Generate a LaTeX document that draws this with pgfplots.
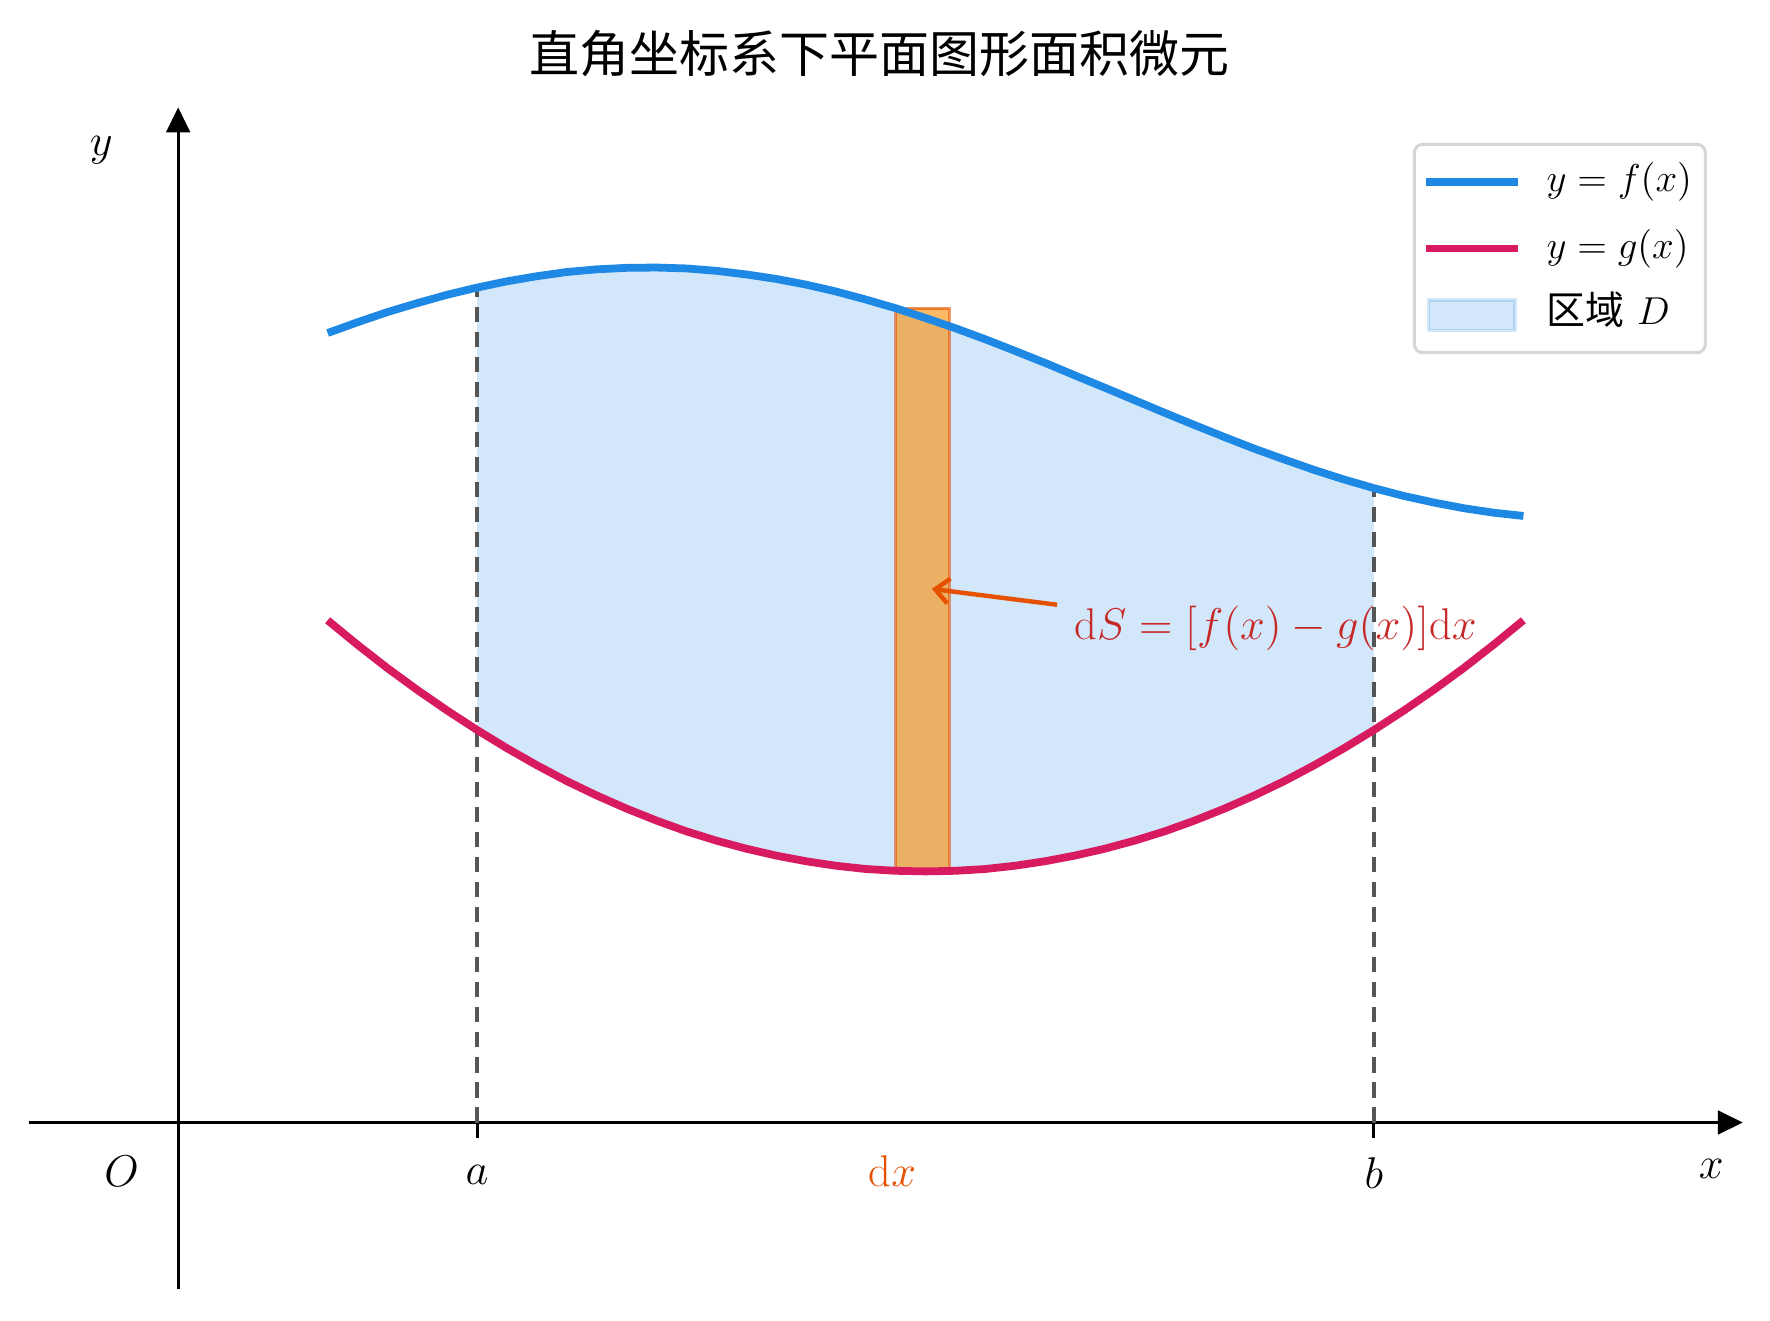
\RequirePackage{fix-cm}
\documentclass[border=0pt]{standalone}
\usepackage{fontspec}
\usepackage{pgfplots}
\usepackage{pgfplotstable}
\pgfplotsset{compat=1.18}
\usepgfplotslibrary{fillbetween}
\usetikzlibrary{arrows.meta}
\newfontfamily\cjk{Noto Sans CJK SC}

\definecolor{fcol}{HTML}{1E88E5}
\definecolor{gcol}{HTML}{D81B60}
\definecolor{stripfill}{HTML}{FB8C00}
\definecolor{stripedge}{HTML}{E65100}
\definecolor{arrowcol}{HTML}{E65100}
\definecolor{notecol}{HTML}{C62828}
\definecolor{dashcol}{HTML}{555555}
\definecolor{framecol}{HTML}{D6D6D6}

\pgfplotsset{
  lineleg/.style={legend image code/.code={\draw[##1] (0pt,0pt) -- (33pt,0pt);}},
  arealeg/.style={legend image code/.code={\draw[##1,sharp corners] (1pt,-5.5pt) rectangle (32pt,5.5pt);}},
}

% upper curve f and lower curve g
\pgfplotstableread{
x    f      g
0.5  2.641  1.680
0.6  2.677  1.598
0.7  2.711  1.520
0.8  2.741  1.447
0.9  2.769  1.378
1.0  2.793  1.313
1.1  2.814  1.252
1.2  2.831  1.195
1.3  2.845  1.142
1.4  2.854  1.094
1.5  2.859  1.050
1.6  2.860  1.010
1.7  2.857  0.974
1.8  2.849  0.943
1.9  2.837  0.916
2.0  2.822  0.893
2.1  2.803  0.874
2.2  2.780  0.859
2.3  2.753  0.848
2.4  2.724  0.842
2.5  2.691  0.840
2.6  2.657  0.842
2.7  2.620  0.848
2.8  2.581  0.859
2.9  2.541  0.874
3.0  2.499  0.893
3.1  2.458  0.916
3.2  2.416  0.943
3.3  2.374  0.974
3.4  2.333  1.010
3.5  2.293  1.050
3.6  2.254  1.094
3.7  2.218  1.142
3.8  2.183  1.195
3.9  2.151  1.252
4.0  2.122  1.313
4.1  2.096  1.378
4.2  2.074  1.447
4.3  2.055  1.520
4.4  2.040  1.598
4.5  2.029  1.680
}\curves

\begin{document}
\begin{tikzpicture}
\begin{axis}[
  x=107.6pt, y=107.6pt,
  xmin=-0.5, xmax=5.234, ymin=-0.558, ymax=3.396,
  axis lines=middle,
  axis line style={line width=1.1pt},
  every inner x axis line/.append style={-{Triangle[length=9pt,width=8.5pt]}},
  every inner y axis line/.append style={-{Triangle[length=9pt,width=8.5pt]}},
  xtick={1,4}, xticklabels={,}, ytick=\empty,
  tick align=outside, major tick length=5.5pt,
  tick style={line width=1.1pt, black},
  clip=false,
  legend cell align=left,
  legend style={
    at={(0.979,0.970)}, anchor=north east,
    draw=framecol, line width=1.1pt, rounded corners=3pt, fill=white,
    inner xsep=2.8pt, inner ysep=4.5pt,
    row sep=6pt, column sep=7pt,
    nodes={inner sep=2pt, text height=10.5pt, text depth=3.5pt},
    font=\fontsize{14}{17}\selectfont,
  },
]
% canvas extent
\path (axis cs:-0.596,-0.661) rectangle (axis cs:5.325,3.755);

\addplot[draw=none, name path=fpath, forget plot] table[x=x,y=f]{\curves};
\addplot[draw=none, name path=gpath, forget plot] table[x=x,y=g]{\curves};
\addplot[fill=fcol, fill opacity=0.2, draw=none, forget plot]
  fill between[of=fpath and gpath, soft clip={domain=1:4}];

% area element strip
\addplot[fill=stripfill, fill opacity=0.6, draw=stripedge, draw opacity=0.6,
  line width=1.1pt, forget plot]
  coordinates {(2.4,0.842) (2.58,0.842) (2.58,2.724) (2.4,2.724)} -- cycle;

\node[anchor=west, text=notecol, font=\fontsize{16}{19}\selectfont]
  at (axis cs:2.965,1.653) {$\mathrm{d}S = [f(x) - g(x)]\mathrm{d}x$};

\addplot[dashcol, dash pattern=on 5.5pt off 3.5pt, line width=1.6pt, forget plot]
  coordinates {(1,0) (1,2.793)};
\addplot[dashcol, dash pattern=on 5.5pt off 3.5pt, line width=1.6pt, forget plot]
  coordinates {(4,0) (4,2.122)};

\addplot[fcol, line width=2.8pt, forget plot] table[x=x,y=f]{\curves};
\addplot[gcol, line width=2.8pt, forget plot] table[x=x,y=g]{\curves};

\addplot[arrowcol, line width=1.6pt, -{Straight Barb[length=5pt,width=9pt]}, forget plot]
  coordinates {(2.94,1.732) (2.521,1.785)};

\addlegendimage{lineleg, fcol, line width=2.8pt}
\addlegendentry{$y=f(x)$}
\addlegendimage{lineleg, gcol, line width=2.8pt}
\addlegendentry{$y=g(x)$}
\addlegendimage{arealeg, fill=fcol, fill opacity=0.2, draw=fcol, draw opacity=0.2, line width=1.2pt}
\addlegendentry{{\cjk 区域} $D$}

% labels
\begin{scope}[font=\fontsize{16}{19}\selectfont]
\node at (axis cs:-0.257,3.253) {$y$};
\node at (axis cs:5.128,-0.155) {$x$};
\node at (axis cs:-0.189,-0.162) {$O$};
\node at (axis cs:1,-0.177) {$a$};
\node at (axis cs:4,-0.170) {$b$};
\node[text=arrowcol] at (axis cs:2.389,-0.162) {$\mathrm{d}x$};
\end{scope}

\node[font=\cjk\fontsize{18}{22}\selectfont] at (axis cs:2.347,3.574)
  {直角坐标系下平面图形面积微元};
\end{axis}
\end{tikzpicture}
\end{document}
